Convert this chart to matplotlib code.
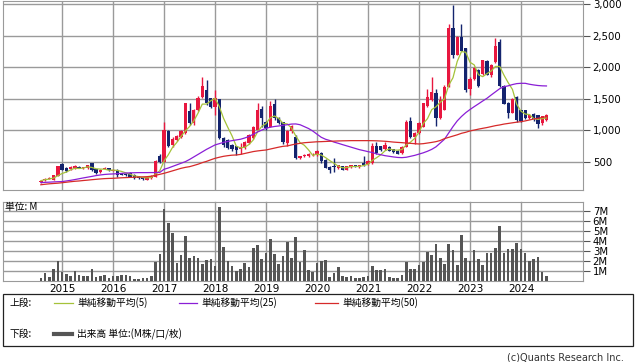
import numpy as np
import pandas as pd
import matplotlib
matplotlib.use("Agg")
import matplotlib.pyplot as plt
from matplotlib.lines import Line2D
from matplotlib.patches import Rectangle

plt.rcParams['font.family'] = ['DejaVu Sans', 'Noto Sans CJK JP']
JP = ['Noto Sans CJK JP', 'DejaVu Sans']

# monthly data, Aug 2014 - Jul 2024
months = pd.date_range('2014-08-01', periods=120, freq='MS')

opens = [185, 210, 235, 220, 285, 465, 410, 385, 400, 425, 405, 400, 480, 385, 340, 390, 400, 365, 375, 320,
         310, 330, 300, 280, 265, 215, 240, 265, 600, 505, 995, 770, 850, 900, 955, 1300, 1110, 1320, 1530, 1640,
         1510, 1375, 1490, 875, 850, 770, 755, 700, 715, 795, 875, 1005, 1335, 1140, 1060, 1420, 1200, 1130, 800, 990,
         900, 560, 590, 590, 620, 610, 650, 530, 420, 440, 400, 430, 380, 420, 450, 420, 480, 470, 480, 750,
         755, 700, 745, 705, 675, 640, 745, 1150, 890, 955, 1060, 1380, 1480, 1590, 1200, 1330, 1690, 2615, 2200, 2480,
         2300, 1650, 1820, 1960, 1900, 2100, 1870, 2080, 2400, 1700, 1440, 1280, 1530, 1320, 1320, 1190, 1260, 1240, 1110, 1165]
highs = [215, 240, 265, 300, 440, 485, 420, 430, 455, 435, 425, 460, 490, 395, 390, 420, 410, 390, 385, 330,
         320, 340, 305, 285, 270, 275, 290, 530, 620, 1140, 1010, 890, 930, 1000, 1440, 1440, 1340, 1540, 1850, 1800,
         1520, 1640, 1500, 890, 860, 780, 760, 800, 830, 940, 1070, 1430, 1380, 1150, 1460, 1490, 1210, 1140, 1000, 1080,
         920, 600, 620, 640, 650, 690, 660, 540, 430, 560, 460, 440, 440, 460, 455, 460, 600, 530, 800, 820,
         760, 810, 760, 710, 690, 760, 1170, 1210, 970, 1130, 1440, 1660, 1840, 1650, 1540, 1720, 2680, 2980, 2500, 2680,
         2310, 1840, 2000, 1970, 2120, 2110, 2050, 2460, 2440, 1720, 1450, 1520, 1540, 1330, 1330, 1260, 1280, 1250, 1230, 1260]
lows = [175, 200, 225, 210, 280, 370, 340, 375, 395, 400, 395, 395, 360, 315, 330, 385, 360, 355, 270, 290,
        280, 260, 235, 230, 215, 210, 235, 260, 480, 495, 730, 740, 830, 880, 940, 1080, 1090, 1300, 1510, 1400,
        1360, 1245, 860, 740, 700, 680, 610, 620, 700, 780, 860, 990, 1060, 1000, 1050, 1160, 1100, 790, 760, 960,
        550, 550, 580, 580, 600, 600, 490, 400, 320, 340, 390, 370, 370, 410, 420, 410, 430, 460, 470, 620,
        680, 690, 670, 650, 620, 630, 740, 880, 780, 940, 1050, 1370, 1470, 1070, 1180, 1320, 1680, 2140, 2190, 2250,
        1610, 1560, 1800, 1680, 1880, 1870, 1850, 2070, 1680, 1410, 1200, 1270, 1140, 1140, 1180, 1180, 1150, 1030, 1080, 1150]
closes = [205, 235, 250, 295, 430, 380, 350, 420, 430, 405, 415, 450, 370, 325, 380, 405, 370, 380, 300, 300,
          290, 270, 245, 240, 225, 270, 285, 520, 505, 1005, 755, 870, 910, 985, 1430, 1110, 1320, 1520, 1700, 1430,
          1375, 1510, 875, 770, 715, 700, 690, 745, 820, 930, 1060, 1320, 1190, 1040, 1390, 1200, 1120, 810, 990, 1070,
          570, 590, 610, 620, 630, 680, 510, 410, 380, 415, 455, 380, 430, 450, 430, 455, 460, 520, 760, 640,
          690, 770, 680, 665, 630, 745, 1140, 890, 965, 1115, 1430, 1530, 1600, 1190, 1480, 1690, 2615, 2190, 2480, 2260,
          1640, 1820, 1980, 1700, 2110, 1880, 2030, 2340, 1700, 1420, 1280, 1500, 1165, 1155, 1190, 1245, 1180, 1100, 1220, 1245]
# volume in millions
volumes = [0.33, 0.8, 0.43, 1.2, 2.0, 0.93, 0.7, 0.5, 1.0, 0.6, 0.5, 0.5, 1.2, 0.43, 0.53, 0.6, 0.3, 0.5, 0.5, 0.6,
           0.57, 0.5, 0.2, 0.2, 0.3, 0.3, 0.5, 1.93, 2.7, 7.2, 5.83, 4.83, 1.77, 2.6, 4.5, 2.3, 2.5, 2.27, 1.7, 2.1,
           2.2, 1.53, 7.43, 3.37, 1.97, 1.47, 1.0, 1.2, 1.8, 1.4, 3.3, 3.6, 2.2, 2.83, 4.2, 2.7, 1.73, 2.5, 3.9, 2.3,
           4.4, 1.93, 3.1, 1.1, 0.93, 1.83, 2.0, 2.1, 0.4, 0.8, 1.4, 0.5, 0.4, 0.5, 0.3, 0.3, 0.4, 0.5, 1.5, 1.1,
           1.1, 1.2, 0.4, 0.27, 0.3, 0.6, 1.9, 1.2, 1.2, 1.6, 1.9, 2.9, 2.6, 3.7, 2.3, 1.7, 3.7, 3.1, 1.6, 4.6,
           2.3, 2.0, 3.1, 2.2, 1.6, 2.8, 2.8, 3.3, 5.5, 2.8, 3.2, 3.2, 3.8, 3.2, 2.8, 2.0, 2.2, 2.4, 0.9, 0.5]
# moving averages (25 and 50 need history before the window)
ma25 = [175, 178, 181, 185, 188, 190, 200, 210, 222, 235, 248, 260, 272, 285, 295, 303, 308, 311, 315, 320,
        325, 328, 330, 332, 332, 332, 333, 333, 335, 385, 405, 430, 455, 480, 505, 540, 580, 620, 660, 700,
        735, 770, 790, 810, 825, 838, 849, 860, 880, 905, 940, 975, 1005, 1033, 1050, 1062, 1070, 1080, 1090, 1100,
        1102, 1090, 1060, 1030, 990, 940, 891, 860, 840, 815, 796, 775, 755, 735, 715, 695, 680, 664, 650, 630,
        615, 600, 590, 580, 572, 569, 575, 590, 605, 625, 645, 670, 700, 740, 800, 860, 960, 1060, 1150, 1220,
        1280, 1330, 1376, 1420, 1465, 1508, 1560, 1610, 1660, 1690, 1705, 1725, 1740, 1745, 1745, 1730, 1719, 1710, 1705, 1703]
ma50 = [140, 148, 155, 160, 165, 172, 180, 188, 195, 200, 207, 213, 220, 226, 232, 237, 240, 242, 246, 250,
        253, 256, 259, 262, 265, 268, 275, 290, 305, 321, 340, 360, 380, 400, 415, 426, 445, 465, 490, 510,
        535, 558, 575, 590, 600, 608, 611, 620, 635, 650, 665, 675, 683, 690, 705, 720, 735, 748, 754, 770,
        785, 795, 805, 810, 815, 820, 822, 825, 828, 830, 833, 835, 836, 838, 838, 838, 838, 838, 837, 835,
        832, 828, 822, 815, 810, 806, 800, 795, 790, 785, 790, 800, 810, 822, 840, 870, 890, 910, 930, 954,
        970, 991, 1005, 1020, 1033, 1045, 1060, 1075, 1086, 1100, 1110, 1120, 1130, 1138, 1150, 1165, 1180, 1191, 1205, 1218]

UP = '#e8173f'
DOWN = '#14246e'
GRID = '#9a9a9a'

x = np.arange(len(months))
o = np.array(opens); c = np.array(closes)
ma5 = pd.Series(closes).rolling(5, min_periods=1).mean()
cols = [UP if cc >= oo else DOWN for oo, cc in zip(o, c)]
jan = [i for i, m in enumerate(months) if m.month == 1]

fig = plt.figure(figsize=(6.38, 3.62), dpi=100)
ax1 = fig.add_axes([3/638, 1-190/362, 580/638, 189/362])
ax2 = fig.add_axes([3/638, 1-281/362, 580/638, 79.5/362])

for ax in (ax1, ax2):
    ax.set_xlim(-8.9, 127.6)
    ax.set_xticks(jan)
    ax.grid(True, color=GRID, lw=1)
    ax.set_axisbelow(True)
    for s in ax.spines.values():
        s.set_color(GRID)
    ax.yaxis.tick_right()
    ax.tick_params(axis='y', length=5, width=0.8, color='#555', pad=2, labelsize=7.3)
    ax.tick_params(axis='x', length=0)

# top: candles + moving averages
ax1.vlines(x, lows, highs, colors=cols, lw=1, zorder=2)
ax1.bar(x, np.abs(c - o), bottom=np.minimum(o, c), width=0.8, color=cols, zorder=3)
ax1.plot(x, ma5, color='#a5c23a', lw=0.9, zorder=4)
ax1.plot(x, ma25, color='#8a1ed6', lw=0.9, zorder=4)
ax1.plot(x, ma50, color='#d62a2a', lw=0.9, zorder=4)
ax1.set_ylim(57, 3047)
ax1.set_yticks([500, 1000, 1500, 2000, 2500, 3000])
ax1.set_yticklabels(['500', '1,000', '1,500', '2,000', '2,500', '3,000'])
ax1.set_xticklabels([])

# bottom: volume
ax2.bar(x, volumes, width=0.6, color='#555555', zorder=3)
ax2.set_ylim(0, 7.95)
ax2.set_yticks(range(1, 8))
ax2.set_yticklabels([f'{v}M' for v in range(1, 8)])
ax2.tick_params(axis='y', pad=2, labelsize=7.3)
ax2.set_xticklabels([str(m.year) for m in months[jan]], fontsize=7.5)
ax2.tick_params(axis='x', pad=2)
ax2.text(0.004, 0.93, '単位: M', transform=ax2.transAxes, fontsize=7, family=JP,
         va='center', ha='left', zorder=5)

# legend box
fig.add_artist(Rectangle((3/638, 1-346/362), 630/638, 52/362, transform=fig.transFigure,
                         fill=False, ec='#222', lw=0.9))
ty1 = 1-303/362
ty2 = 1-334/362
fig.text(9/638, ty1, '上段:', fontsize=7, family=JP, va='center')
fig.text(9/638, ty2, '下段:', fontsize=7, family=JP, va='center')
for x0, x1, col, label, tx in [(54, 73, '#a5c23a', '単純移動平均(5)', 77),
                               (179, 197, '#8a1ed6', '単純移動平均(25)', 201),
                               (315, 338, '#d62a2a', '単純移動平均(50)', 342)]:
    fig.add_artist(Line2D([x0/638, x1/638], [ty1, ty1], color=col, lw=0.9, transform=fig.transFigure))
    fig.text(tx/638, ty1, label, fontsize=7, family=JP, va='center')
fig.add_artist(Line2D([54/638, 72/638], [ty2, ty2], color='#555555', lw=3, transform=fig.transFigure))
fig.text(77/638, ty2, '出来高 単位:(M株/口/枚)', fontsize=7, family=JP, va='center')

fig.text(624/638, 1-357/362, '(c)Quants Research Inc.', fontsize=7, color='#333',
         ha='right', va='center')

plt.savefig('out.png', dpi=100)
